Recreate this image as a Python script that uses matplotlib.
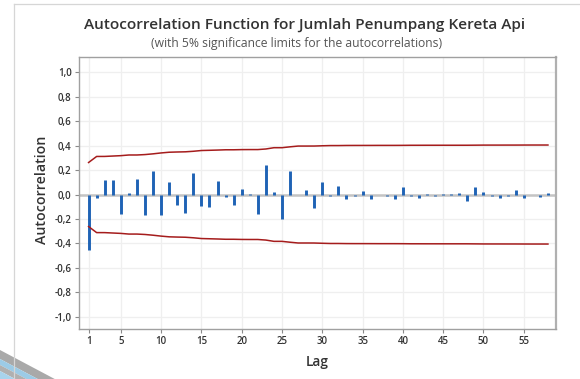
import numpy as np
import matplotlib
matplotlib.use("Agg")
import matplotlib.pyplot as plt
from matplotlib.patches import Polygon
from matplotlib.ticker import FuncFormatter

# ---- data ----
lags = list(range(1, 59))
acf = [-0.455, -0.03, 0.12, 0.12, -0.16, 0.01, 0.127, -0.17, 0.19, -0.17,
       0.10, -0.086, -0.15, 0.18, -0.097, -0.10, 0.11, -0.02, -0.085, 0.045,
       0.005, -0.16, 0.24, 0.02, -0.20, 0.19, -0.005, 0.035, -0.11, 0.10,
       -0.015, 0.07, -0.037, -0.012, 0.028, -0.037, -0.003, -0.012, -0.037, 0.064,
       -0.012, -0.03, 0.003, -0.015, 0.002, 0.005, 0.015, -0.055, 0.058, 0.02,
       -0.01, -0.025, -0.013, 0.04, -0.03, -0.003, -0.02, 0.01]
n_obs = 56
z_crit = 1.96
xticks = [1, 5, 10, 15, 20, 25, 30, 35, 40, 45, 50, 55]
yticks = [-1.0, -0.8, -0.6, -0.4, -0.2, 0.0, 0.2, 0.4, 0.6, 0.8, 1.0]
title = "Autocorrelation Function for Jumlah Penumpang Kereta Api"
subtitle = "(with 5% significance limits for the autocorrelations)"

# Bartlett significance limits (as Minitab computes them)
r = np.array(acf)
cum = np.concatenate([[0.0], np.cumsum(r[:-1] ** 2)])
limit = z_crit * np.sqrt((1 + 2 * cum) / n_obs)

plt.rcParams['font.family'] = ['Open Sans', 'DejaVu Sans']

W, H = 580, 379
fig = plt.figure(figsize=(W / 100, H / 100), dpi=100)
fig.patch.set_facecolor('white')

ax = fig.add_axes([78.5 / W, 1 - 329 / H, (556 - 78.5) / W, (329 - 57) / H])
ax.set_xlim(-0.25, 59)
ax.set_ylim(-1.10, 1.125)

ax.grid(True, color='#efefef', lw=0.9)
ax.set_axisbelow(True)
ax.axhline(0, color='#c4c4c4', lw=1.8, zorder=1)
ax.vlines(lags, 0, acf, color='#1f63b5', lw=2.1, zorder=3)
ax.plot(lags, limit, color='#a51c1c', lw=1.1, zorder=4)
ax.plot(lags, -limit, color='#a51c1c', lw=1.1, zorder=4)

ax.set_xticks(xticks)
ax.set_yticks(yticks)
ax.yaxis.set_major_formatter(FuncFormatter(lambda v, p: f"{v:.1f}".replace('.', ',').replace('-0,0', '0,0')))
ax.tick_params(axis='both', labelsize=7, colors='#333333', length=3, width=0.8,
               color='#8a8a8a', pad=2)
for lab in ax.get_xticklabels() + ax.get_yticklabels():
    lab.set_fontweight('semibold')
for s in ax.spines.values():
    s.set_color('#a0a0a0')
    s.set_linewidth(1.0)
ax.spines['right'].set_linewidth(1.6)
ax.spines['right'].set_color('#b0b0b0')

fig.text(305 / W, 1 - 25 / H, title, ha='center', va='center', fontsize=11.1,
         fontweight='semibold', color='#333333')
fig.text(297 / W, 1 - 44 / H, subtitle, ha='center', va='center', fontsize=8.7,
         color='#555555')
fig.text(42 / W, 1 - 190 / H, "Autocorrelation", rotation=90, ha='center', va='center',
         fontsize=10.2, fontweight='semibold', color='#333333')
fig.text(317 / W, 1 - 362 / H, "Lag", ha='center', va='center', fontsize=9.8,
         fontweight='semibold', color='#333333')

# screenshot frame & decoration
fig.add_artist(plt.Line2D([14 / W, 14 / W], [0, 1 - 4 / H], color='#d6d6d6', lw=0.9))
fig.add_artist(plt.Line2D([14 / W, 1], [1 - 4 / H, 1 - 4 / H], color='#d6d6d6', lw=0.9))

def band(y0, y1, color):
    pts = [(0, y0), (0, y1), ((379 - y1) / 0.53, 379), ((379 - y0) / 0.53, 379)]
    pts = [(max(px, 0) / W, 1 - min(py, 379) / H) for px, py in pts]
    fig.add_artist(Polygon(pts, closed=True, facecolor=color, edgecolor='none'))

band(350, 359, '#a9a9a9')
band(359, 365, '#9ccbe6')
band(365, 371, '#b0b0b0')
band(371, 380, '#a8d3ec')

fig.savefig("out.png", dpi=100)
